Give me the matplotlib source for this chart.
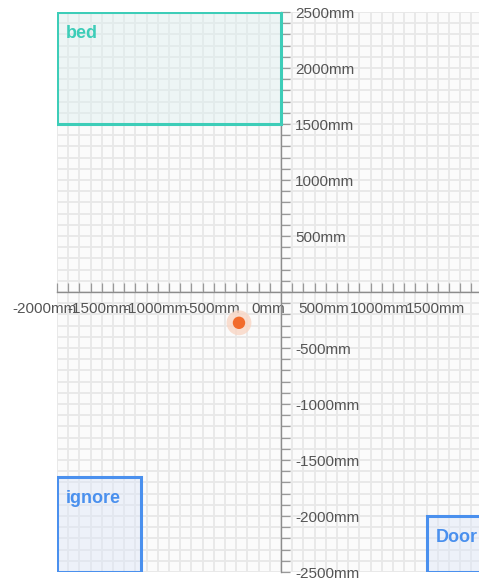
import matplotlib
matplotlib.use("Agg")
import matplotlib.pyplot as plt
from matplotlib.patches import Rectangle
from matplotlib.transforms import ScaledTranslation
from matplotlib.ticker import FuncFormatter, MultipleLocator

# --- zones (mm) ---
zone_names = ["bed", "ignore", "Door"]
zone_x0 = [-2000, -2000, 1300]
zone_x1 = [0, -1250, 2100]
zone_y0 = [1500, -2500, -2500]
zone_y1 = [2500, -1650, -2000]
zone_kind = ["bed", "ignore", "ignore"]

# --- detected target (mm) ---
target_x = [-375]
target_y = [-275]

kind_colors = {"bed": "#3dcdb8", "ignore": "#4a90ee"}
kind_fills = {"bed": "#dcefef", "ignore": "#dce6f8"}

plt.rcParams["font.family"] = ["Liberation Sans", "DejaVu Sans"]

fig = plt.figure(figsize=(4.79, 5.80), dpi=100)
ax = fig.add_axes([57 / 479, 8 / 580, 422 / 479, 560 / 580])
ax.set_facecolor("#fbfbfb")

xmin, xmax = -2000, 1768
ymin, ymax = -2500, 2500
ax.set_xlim(xmin, xmax)
ax.set_ylim(ymin, ymax)

ax.xaxis.set_major_locator(MultipleLocator(500))
ax.xaxis.set_minor_locator(MultipleLocator(100))
ax.yaxis.set_major_locator(MultipleLocator(500))
ax.yaxis.set_minor_locator(MultipleLocator(100))

# grid drawn as plain lines so it stays under the tick labels
grid_x = [v for v in MultipleLocator(100).tick_values(xmin, xmax) if xmin <= v <= xmax]
grid_y = [v for v in MultipleLocator(100).tick_values(ymin, ymax) if ymin <= v <= ymax]
ax.vlines(grid_x, ymin, ymax, color="#e8e8e8", linewidth=1.3, zorder=0)
ax.hlines(grid_y, xmin, xmax, color="#e8e8e8", linewidth=1.3, zorder=0)

# axes crossing at the origin
ax.spines["bottom"].set_position(("data", 0))
ax.spines["right"].set_position(("data", 0))
ax.spines["top"].set_visible(False)
ax.spines["left"].set_visible(False)
for s in ("bottom", "right"):
    ax.spines[s].set_color("#8c8c8c")
    ax.spines[s].set_linewidth(1.0)

ax.yaxis.tick_right()
ax.tick_params(axis="x", which="both", direction="in", length=6.5, width=0.9,
               color="#999999", pad=7, labelsize=11, labelcolor="#555555")
ax.tick_params(axis="y", which="both", direction="out", length=6.5, width=0.9,
               color="#999999", pad=3.6, labelsize=11, labelcolor="#555555")

fmt = FuncFormatter(lambda v, pos: f"{int(round(v))}mm")
ax.xaxis.set_major_formatter(fmt)
ax.yaxis.set_major_formatter(FuncFormatter(
    lambda v, pos: "" if abs(v) < 1 else f"{int(round(v))}mm"))

for name, x0, x1, y0, y1, kind in zip(zone_names, zone_x0, zone_x1,
                                      zone_y0, zone_y1, zone_kind):
    c = kind_colors[kind]
    ax.add_patch(Rectangle((x0, y0), x1 - x0, y1 - y0,
                           facecolor=kind_fills[kind], alpha=0.45,
                           edgecolor="none", zorder=2))
    ax.add_patch(Rectangle((x0, y0), x1 - x0, y1 - y0, facecolor="none",
                           edgecolor=c, linewidth=2.2, zorder=3))
    ax.annotate(name, (x0, y1), xytext=(9, -22), textcoords="offset pixels",
                color=c, fontsize=13, fontweight="bold", ha="left",
                va="center", zorder=4, annotation_clip=False)

ax.scatter(target_x, target_y, s=320, color="#f9d6c4", alpha=0.8,
           edgecolors="none", zorder=5)
ax.scatter(target_x, target_y, s=80, color="#f26b2c", edgecolors="none",
           zorder=6)

fig.canvas.draw()
shift = ScaledTranslation(-13 / 100, 0, fig.dpi_scale_trans)
for lab in ax.get_xticklabels():
    lab.set_transform(lab.get_transform() + shift)

fig.savefig("out.png", dpi=100)
